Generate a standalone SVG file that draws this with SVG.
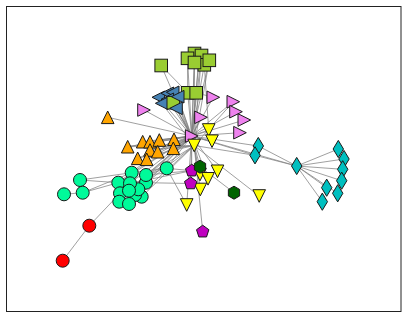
<svg xmlns="http://www.w3.org/2000/svg" xmlns:xlink="http://www.w3.org/1999/xlink" width="407" height="318" viewBox="0 0 407 318">
<style>
.e line{stroke:#808080;stroke-opacity:0.75;stroke-width:1}
.n{stroke:#1a1a1a;stroke-width:1}
.sq{fill:#9ACD32}.bl{fill:#4682B4}.vi{fill:#EE82EE}.or{fill:#FFA500}.ye{fill:#FFFF00}
.pu{fill:#BF00BF}.dg{fill:#006400}.ci{fill:#00FA9A}.rd{fill:#FF0000}.cy{fill:#00BFBF}
</style>
<defs>
<rect id="S" x="-6.3" y="-6.3" width="12.6" height="12.6"/>
<circle id="C" r="6.5"/>
<path id="TU" d="M0,-6.3L6.3,6.3L-6.3,6.3Z"/>
<path id="TD" d="M0,6.3L6.3,-6.3L-6.3,-6.3Z"/>
<path id="TL" d="M-6.3,0L6.3,-6.3L6.3,6.3Z"/>
<path id="TR" d="M6.3,0L-6.3,-6.3L-6.3,6.3Z"/>
<path id="D" d="M0,-8.6L5.2,0L0,8.6L-5.2,0Z"/>
<path id="P" d="M0,-6.5L6.18,-2.01L3.82,5.26L-3.82,5.26L-6.18,-2.01Z"/>
<path id="H" d="M0,-6.5L5.63,-3.25L5.63,3.25L0,6.5L-5.63,3.25L-5.63,-3.25Z"/>
</defs>
<rect x="6.5" y="6.5" width="394.5" height="305" fill="#fff" stroke="#222" stroke-width="1"/>
<g id="edges" class="e">
<line x1="161.2" y1="65.5" x2="187.7" y2="92.8"/>
<line x1="161.2" y1="65.5" x2="191.7" y2="136"/>
<line x1="194.5" y1="53.5" x2="191.7" y2="136"/>
<line x1="187.5" y1="58.3" x2="191.7" y2="136"/>
<line x1="201.5" y1="55.5" x2="191.7" y2="136"/>
<line x1="194.5" y1="62.5" x2="191.7" y2="136"/>
<line x1="204.3" y1="64.8" x2="191.7" y2="136"/>
<line x1="209.3" y1="60.3" x2="191.7" y2="136"/>
<line x1="199" y1="59" x2="191.7" y2="136"/>
<line x1="194.5" y1="53.5" x2="194.2" y2="145.5"/>
<line x1="201.5" y1="55.5" x2="194.2" y2="145.5"/>
<line x1="209.3" y1="60.3" x2="194.2" y2="145.5"/>
<line x1="204.3" y1="64.8" x2="208.7" y2="130"/>
<line x1="187.5" y1="58.3" x2="187.7" y2="92.8"/>
<line x1="199" y1="59" x2="196.2" y2="92.8"/>
<line x1="187.7" y1="92.8" x2="191.7" y2="136"/>
<line x1="196.2" y1="92.8" x2="191.7" y2="136"/>
<line x1="196.2" y1="92.8" x2="213.3" y2="97.3"/>
<line x1="173.3" y1="102.7" x2="191.7" y2="136"/>
<line x1="158.3" y1="97.3" x2="191.7" y2="136"/>
<line x1="167.3" y1="93.3" x2="191.7" y2="136"/>
<line x1="172.7" y1="92.3" x2="194.2" y2="145.5"/>
<line x1="167.3" y1="99.3" x2="191.7" y2="136"/>
<line x1="177.7" y1="96.7" x2="191.7" y2="136"/>
<line x1="161.7" y1="103.3" x2="194.2" y2="145.5"/>
<line x1="176" y1="108.3" x2="191.7" y2="136"/>
<line x1="177.7" y1="96.7" x2="194.2" y2="145.5"/>
<line x1="213.3" y1="97.3" x2="191.7" y2="136"/>
<line x1="233.3" y1="101.7" x2="191.7" y2="136"/>
<line x1="236" y1="111.7" x2="191.7" y2="136"/>
<line x1="244.3" y1="120" x2="191.7" y2="136"/>
<line x1="240" y1="132.7" x2="191.7" y2="136"/>
<line x1="201" y1="117.3" x2="191.7" y2="136"/>
<line x1="144" y1="110" x2="191.7" y2="136"/>
<line x1="233.3" y1="101.7" x2="194.2" y2="145.5"/>
<line x1="107.7" y1="117.3" x2="191.7" y2="136"/>
<line x1="127.7" y1="146.7" x2="191.7" y2="136"/>
<line x1="142.7" y1="141.7" x2="191.7" y2="136"/>
<line x1="150" y1="141.7" x2="191.7" y2="136"/>
<line x1="159.3" y1="140" x2="191.7" y2="136"/>
<line x1="174" y1="139.3" x2="191.7" y2="136"/>
<line x1="150" y1="150" x2="191.7" y2="136"/>
<line x1="157.7" y1="151.7" x2="191.7" y2="136"/>
<line x1="173.3" y1="148.3" x2="191.7" y2="136"/>
<line x1="137.7" y1="158.3" x2="191.7" y2="136"/>
<line x1="146.7" y1="159.3" x2="191.7" y2="136"/>
<line x1="127.7" y1="146.7" x2="194.2" y2="145.5"/>
<line x1="150" y1="150" x2="194.2" y2="145.5"/>
<line x1="137.7" y1="158.3" x2="194.2" y2="145.5"/>
<line x1="173.3" y1="148.3" x2="194.2" y2="145.5"/>
<line x1="127.7" y1="146.7" x2="174" y2="139.3"/>
<line x1="208.7" y1="130" x2="191.7" y2="136"/>
<line x1="212" y1="141.2" x2="191.7" y2="136"/>
<line x1="194.2" y1="145.5" x2="191.7" y2="136"/>
<line x1="217.5" y1="171.3" x2="191.7" y2="136"/>
<line x1="200" y1="174.5" x2="191.7" y2="136"/>
<line x1="208" y1="178.8" x2="191.7" y2="136"/>
<line x1="200.3" y1="189.5" x2="194.2" y2="145.5"/>
<line x1="186.7" y1="205" x2="166.7" y2="168.3"/>
<line x1="186.7" y1="205" x2="191.7" y2="136"/>
<line x1="259.2" y1="196" x2="194.2" y2="145.5"/>
<line x1="191.7" y1="170.7" x2="191.7" y2="136"/>
<line x1="190.7" y1="183.5" x2="191.7" y2="136"/>
<line x1="202.7" y1="231.7" x2="194.2" y2="145.5"/>
<line x1="200" y1="166.7" x2="191.7" y2="136"/>
<line x1="234" y1="192.7" x2="200" y2="166.7"/>
<line x1="80" y1="180" x2="131.7" y2="172.7"/>
<line x1="80" y1="180" x2="118.3" y2="182.7"/>
<line x1="82.7" y1="192.7" x2="118.3" y2="182.7"/>
<line x1="82.7" y1="192.7" x2="131.7" y2="172.7"/>
<line x1="64" y1="194.3" x2="82.7" y2="192.7"/>
<line x1="131.7" y1="172.7" x2="191.7" y2="136"/>
<line x1="146" y1="175" x2="191.7" y2="136"/>
<line x1="118.3" y1="182.7" x2="191.7" y2="136"/>
<line x1="130" y1="183.3" x2="191.7" y2="136"/>
<line x1="146" y1="182.7" x2="194.2" y2="145.5"/>
<line x1="129" y1="190.7" x2="191.7" y2="136"/>
<line x1="120" y1="193.3" x2="194.2" y2="145.5"/>
<line x1="138.3" y1="189.3" x2="191.7" y2="136"/>
<line x1="141.7" y1="196.7" x2="194.2" y2="145.5"/>
<line x1="135" y1="195" x2="191.7" y2="136"/>
<line x1="119.3" y1="201.7" x2="191.7" y2="136"/>
<line x1="129" y1="204" x2="194.2" y2="145.5"/>
<line x1="166.7" y1="168.3" x2="191.7" y2="136"/>
<line x1="166.7" y1="168.3" x2="146" y2="175"/>
<line x1="166.7" y1="168.3" x2="191.7" y2="170.7"/>
<line x1="146" y1="175" x2="191.7" y2="170.7"/>
<line x1="146" y1="182.7" x2="190.7" y2="183.5"/>
<line x1="131.7" y1="172.7" x2="166.7" y2="168.3"/>
<line x1="130" y1="183.3" x2="191.7" y2="170.7"/>
<line x1="118.3" y1="182.7" x2="174" y2="139.3"/>
<line x1="62.7" y1="260.7" x2="89.3" y2="225.7"/>
<line x1="89.3" y1="225.7" x2="120" y2="193.3"/>
<line x1="258.3" y1="146" x2="191.7" y2="136"/>
<line x1="255" y1="155.3" x2="191.7" y2="136"/>
<line x1="255" y1="155.3" x2="194.2" y2="145.5"/>
<line x1="296.7" y1="166" x2="258.3" y2="146"/>
<line x1="296.7" y1="166" x2="255" y2="155.3"/>
<line x1="296.7" y1="166" x2="191.7" y2="136"/>
<line x1="296.7" y1="166" x2="338.3" y2="149"/>
<line x1="296.7" y1="166" x2="344" y2="159"/>
<line x1="296.7" y1="166" x2="342.7" y2="169.3"/>
<line x1="296.7" y1="166" x2="341.7" y2="180.7"/>
<line x1="296.7" y1="166" x2="337.7" y2="193.3"/>
<line x1="296.7" y1="166" x2="326.7" y2="187.7"/>
<line x1="296.7" y1="166" x2="322.3" y2="201.7"/>
</g>
<g class="n">
<g id="sq1"><use href="#S" x="161.2" y="65.5" class="sq"/></g>
<g id="sq8"><use href="#S" x="199" y="59" class="sq"/></g>
<g id="sq2"><use href="#S" x="194.5" y="53.5" class="sq"/></g>
<g id="sq3"><use href="#S" x="187.5" y="58.3" class="sq"/></g>
<g id="sq4"><use href="#S" x="201.5" y="55.5" class="sq"/></g>
<g id="sq6"><use href="#S" x="204.3" y="64.8" class="sq"/></g>
<g id="sq7"><use href="#S" x="209.3" y="60.3" class="sq"/></g>
<g id="sq5"><use href="#S" x="194.5" y="62.5" class="sq"/></g>
<g id="sq9"><use href="#S" x="187.7" y="92.8" class="sq"/></g>
<g id="sq10"><use href="#S" x="196.2" y="92.8" class="sq"/></g>
<g id="bl1"><use href="#TL" x="158.3" y="97.3" class="bl"/></g>
<g id="bl2"><use href="#TL" x="167.3" y="93.3" class="bl"/></g>
<g id="bl3"><use href="#TL" x="172.7" y="92.3" class="bl"/></g>
<g id="bl4"><use href="#TL" x="167.3" y="99.3" class="bl"/></g>
<g id="bl6"><use href="#TL" x="161.7" y="103.3" class="bl"/></g>
<g id="sq11"><use href="#S" x="173.3" y="102.7" class="sq"/></g>
<g id="bl5"><use href="#TL" x="177.7" y="96.7" class="bl"/></g>
<g id="bl7"><use href="#TL" x="176" y="108.3" class="bl"/></g>
<g id="vi1"><use href="#TR" x="213.3" y="97.3" class="vi"/></g>
<g id="vi2"><use href="#TR" x="233.3" y="101.7" class="vi"/></g>
<g id="vi3"><use href="#TR" x="144" y="110" class="vi"/></g>
<g id="vi4"><use href="#TR" x="236" y="111.7" class="vi"/></g>
<g id="vi5"><use href="#TR" x="201" y="117.3" class="vi"/></g>
<g id="vi6"><use href="#TR" x="244.3" y="120" class="vi"/></g>
<g id="vi7"><use href="#TR" x="240" y="132.7" class="vi"/></g>
<g id="vi8"><use href="#TR" x="191.7" y="136" class="vi"/></g>
<g id="or1"><use href="#TU" x="107.7" y="117.3" class="or"/></g>
<g id="or2"><use href="#TU" x="127.7" y="146.7" class="or"/></g>
<g id="or3"><use href="#TU" x="142.7" y="141.7" class="or"/></g>
<g id="or4"><use href="#TU" x="150" y="141.7" class="or"/></g>
<g id="or5"><use href="#TU" x="159.3" y="140" class="or"/></g>
<g id="or6"><use href="#TU" x="174" y="139.3" class="or"/></g>
<g id="or7"><use href="#TU" x="150" y="150" class="or"/></g>
<g id="or8"><use href="#TU" x="157.7" y="151.7" class="or"/></g>
<g id="or9"><use href="#TU" x="173.3" y="148.3" class="or"/></g>
<g id="or10"><use href="#TU" x="137.7" y="158.3" class="or"/></g>
<g id="or11"><use href="#TU" x="146.7" y="159.3" class="or"/></g>
<g id="ye1"><use href="#TD" x="208.7" y="130" class="ye"/></g>
<g id="ye2"><use href="#TD" x="212" y="141.2" class="ye"/></g>
<g id="ye3"><use href="#TD" x="194.2" y="145.5" class="ye"/></g>
<g id="ye5"><use href="#TD" x="200" y="174.5" class="ye"/></g>
<g id="ye4"><use href="#TD" x="217.5" y="171.3" class="ye"/></g>
<g id="ye6"><use href="#TD" x="208" y="178.8" class="ye"/></g>
<g id="ye7"><use href="#TD" x="200.3" y="189.5" class="ye"/></g>
<g id="ye8"><use href="#TD" x="186.7" y="205" class="ye"/></g>
<g id="ye9"><use href="#TD" x="259.2" y="196" class="ye"/></g>
<g id="pu1"><use href="#P" x="191.7" y="170.7" class="pu"/></g>
<g id="pu2"><use href="#P" x="190.7" y="183.5" class="pu"/></g>
<g id="pu3"><use href="#P" x="202.7" y="231.7" class="pu"/></g>
<g id="dg1"><use href="#H" x="200" y="166.7" class="dg"/></g>
<g id="dg2"><use href="#H" x="234" y="192.7" class="dg"/></g>
<g id="ci1"><use href="#C" x="80" y="180" class="ci"/></g>
<g id="ci2"><use href="#C" x="64" y="194.3" class="ci"/></g>
<g id="ci3"><use href="#C" x="82.7" y="192.7" class="ci"/></g>
<g id="ci4"><use href="#C" x="166.7" y="168.3" class="ci"/></g>
<g id="ci5"><use href="#C" x="146" y="182.7" class="ci"/></g>
<g id="ci6"><use href="#C" x="141.7" y="196.7" class="ci"/></g>
<g id="ci7"><use href="#C" x="135" y="195" class="ci"/></g>
<g id="ci8"><use href="#C" x="138.3" y="189.3" class="ci"/></g>
<g id="ci9"><use href="#C" x="146" y="175" class="ci"/></g>
<g id="ci10"><use href="#C" x="131.7" y="172.7" class="ci"/></g>
<g id="ci11"><use href="#C" x="118.3" y="182.7" class="ci"/></g>
<g id="ci12"><use href="#C" x="120" y="193.3" class="ci"/></g>
<g id="ci13"><use href="#C" x="119.3" y="201.7" class="ci"/></g>
<g id="ci14"><use href="#C" x="129" y="204" class="ci"/></g>
<g id="ci15"><use href="#C" x="130" y="183.3" class="ci"/></g>
<g id="ci16"><use href="#C" x="129" y="190.7" class="ci"/></g>
<g id="rd1"><use href="#C" x="89.3" y="225.7" class="rd"/></g>
<g id="rd2"><use href="#C" x="62.7" y="260.7" class="rd"/></g>
<g id="cy1"><use href="#D" x="258.3" y="146" class="cy"/></g>
<g id="cy2"><use href="#D" x="255" y="155.3" class="cy"/></g>
<g id="cy3"><use href="#D" x="296.7" y="166" class="cy"/></g>
<g id="cy4"><use href="#D" x="338.3" y="149" class="cy"/></g>
<g id="cy5"><use href="#D" x="344" y="159" class="cy"/></g>
<g id="cy6"><use href="#D" x="342.7" y="169.3" class="cy"/></g>
<g id="cy7"><use href="#D" x="341.7" y="180.7" class="cy"/></g>
<g id="cy8"><use href="#D" x="337.7" y="193.3" class="cy"/></g>
<g id="cy9"><use href="#D" x="326.7" y="187.7" class="cy"/></g>
<g id="cy10"><use href="#D" x="322.3" y="201.7" class="cy"/></g>
</g>
</svg>
